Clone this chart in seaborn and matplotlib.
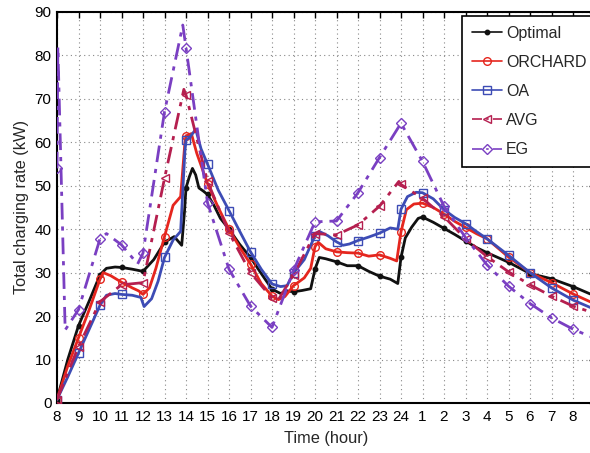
import numpy as np
import pandas as pd
import matplotlib
matplotlib.use("Agg")
import matplotlib.pyplot as plt
from matplotlib.lines import Line2D
import seaborn as sns

# Time axis: hours from 8 am through the night to 8 am next day (24 -> 1, 2, ...)
hour_ticks = list(range(8, 33))
hour_labels = [str(h) for h in range(8, 25)] + [str(h) for h in range(1, 9)]

opt_t = [8, 8.5, 9, 9.5, 10, 10.3, 10.7, 11, 11.5, 12, 12.5, 13, 13.45, 13.8, 13.93, 14,
         14.15, 14.3, 14.45, 14.6, 14.8, 15, 15.3, 15.6, 16, 16.5, 17, 17.5, 18, 18.4, 18.7,
         19, 19.4, 19.8, 20, 20.2, 20.5, 21, 21.5, 22, 22.5, 23, 23.5, 23.85, 24, 24.2,
         24.5, 24.8, 25, 25.5, 26, 26.5, 27, 27.5, 28, 29, 30, 31, 32, 32.8]
opt_v = [0.8, 10, 17.8, 23.5, 29.5, 31, 31.3, 31.2, 30.8, 30.3, 33, 37, 38.3, 36.3, 44, 49.5,
         52, 54, 52.5, 49.5, 48.8, 48, 45.5, 42.5, 40, 36.5, 33.5, 29.8, 26.2, 25.2, 25.8,
         25.6, 25.9, 26.3, 30.8, 33.5, 33.2, 32.5, 31.6, 31.6, 30.3, 29.2, 28.5, 27.5, 33.5, 38,
         40.5, 42.5, 42.8, 41.6, 40.2, 38.8, 37.3, 35.8, 34.6, 32.4, 29.8, 28.6, 26.8, 25.1]

orc_t = [8, 8.5, 9, 9.5, 10, 10.15, 10.5, 11, 11.5, 11.8, 12, 12.3, 12.6, 13, 13.4, 13.75,
         13.95, 14, 14.25, 14.5, 15, 15.5, 16, 16.5, 17, 17.5, 18, 18.3, 18.6, 19, 19.5, 19.8,
         20, 20.15, 20.5, 21, 21.5, 22, 22.5, 23, 23.5, 23.8, 24, 24.25, 24.6, 25, 25.5, 26,
         26.5, 27, 27.5, 28, 29, 30, 31, 32, 32.8]
orc_v = [0.8, 8.5, 15, 21.5, 28.5, 30, 29.3, 27.8, 26.5, 25.8, 25, 26.5, 31, 38.3, 45.5, 47.5,
         60, 61.5, 62, 57.5, 50.5, 45, 40, 35.8, 32, 27.5, 24.6, 23.8, 24.5, 27, 28.8, 31,
         36, 37, 35.5, 34.8, 34.6, 34.5, 33.8, 34.1, 33.3, 32.7, 39.4, 44.5, 45.8, 46, 45, 43.5,
         41.8, 40.4, 39, 37.8, 33.6, 30, 27.7, 25.1, 23.3]

oa_t = [8, 8.5, 9, 9.5, 10, 10.3, 10.7, 11, 11.5, 11.9, 12.05, 12.4, 12.7, 13, 13.4, 13.75,
        13.95, 14, 14.2, 14.45, 14.7, 15, 15.5, 16, 16.5, 17, 17.5, 18, 18.4, 18.7, 19, 19.5,
        20, 20.2, 20.6, 21, 21.3, 21.6, 22, 22.5, 23, 23.5, 23.85, 24, 24.3, 24.7, 25, 25.5,
        26, 26.5, 27, 27.5, 28, 29, 30, 31, 32, 32.8]
oa_v = [0.8, 6, 11.5, 17, 22.5, 24.8, 25.2, 25, 24.8, 24.3, 22.2, 24, 28, 33.5, 37.5, 39.5,
        58, 60.5, 61.3, 63, 58.5, 55, 49, 44.3, 39.5, 34.8, 30.8, 27.4, 26.8, 27, 29.9, 33,
        38.5, 39.5, 38.5, 37.1, 36.3, 36.6, 37.4, 38.2, 39.1, 40.3, 40, 44.6, 47.5, 48.5, 48.4,
        47, 44.5, 42.7, 41.3, 39.5, 37.8, 34, 30, 26.5, 23.7, 22]

avg_t = [8, 9, 10, 11, 12, 13, 13.9, 14, 15, 16, 17, 18, 18.3, 19, 20, 21, 22, 23, 23.9, 24,
         25, 26, 27, 28, 29, 30, 31, 32, 32.8]
avg_v = [0.8, 13, 23.3, 27.2, 27.7, 51.7, 72.2, 70.9, 51, 39.2, 30, 24.1, 23.8, 29.5, 39, 38.7,
         41, 45.3, 51, 50.3, 47.1, 42.9, 37.8, 33.7, 30.2, 27.2, 24.6, 22.3, 21]

eg_t = [8, 8.04, 8.38, 9, 10, 10.3, 11, 11.75, 12, 13, 13.85, 14, 15, 16, 17, 18, 19, 20, 21,
        22, 23, 24, 25, 26, 27, 28, 29, 30, 31, 32, 32.8]
eg_v = [54, 82, 16.8, 21.5, 37.8, 39, 36.4, 32, 34.5, 67, 87, 81.8, 46.1, 30.8, 22.3, 17.4,
        30.5, 41.7, 41.9, 48.4, 56.5, 64.4, 55.6, 45.3, 38.1, 31.8, 26.9, 22.9, 19.6, 17.0, 15.3]

series_names = ["Optimal", "ORCHARD", "OA", "AVG", "EG"]

sns.set_style("white")
plt.rcParams["font.family"] = ["Liberation Sans", "DejaVu Sans"]

dash_dot = (0, (6, 2.5, 1.5, 2.5))
styles = {
    "Optimal": dict(color="#111111", ls="-", marker="o", ms=3.2, mfc="#111111", mec="#111111", lw=2.0),
    "ORCHARD": dict(color="#e5261e", ls="-", marker="o", ms=5.5, mfc="none", mec="#e5261e", lw=2.0),
    "OA": dict(color="#3d4cb5", ls="-", marker="s", ms=5.5, mfc="none", mec="#3d4cb5", lw=2.0),
    "AVG": dict(color="#b51f4f", ls=dash_dot, marker="<", ms=6, mfc="none", mec="#b51f4f", lw=2.0),
    "EG": dict(color="#7a3fc2", ls=dash_dot, marker="D", ms=5, mfc="none", mec="#7a3fc2", lw=2.0),
}
data = {
    "Optimal": (opt_t, opt_v),
    "ORCHARD": (orc_t, orc_v),
    "OA": (oa_t, oa_v),
    "AVG": (avg_t, avg_v),
    "EG": (eg_t, eg_v),
}

fig = plt.figure(figsize=(5.9, 4.53), dpi=100)
ax = fig.add_axes([57 / 590, 50 / 453, 537.5 / 590, 391 / 453])

for name in series_names:
    t, v = data[name]
    df = pd.DataFrame({"t": t, "v": v})
    on_hour = [i for i, x in enumerate(t) if float(x).is_integer()]
    st = styles[name]
    sns.lineplot(data=df, x="t", y="v", ax=ax, color=st["color"], linestyle=st["ls"],
                 linewidth=st["lw"], marker=st["marker"], markersize=st["ms"],
                 markerfacecolor=st["mfc"], markeredgecolor=st["mec"], markeredgewidth=1.0,
                 markevery=on_hour, estimator=None, sort=False, legend=False, zorder=3)

ax.set_xlim(8, 33)
ax.set_ylim(0, 90)
ax.set_xticks(hour_ticks)
ax.set_xticklabels(hour_labels)
ax.set_yticks(range(0, 91, 10))
ax.tick_params(direction="in", length=4, width=1, top=True, right=True,
               labelsize=11, pad=4, colors="black")
ax.tick_params(axis="x", pad=5)
ax.grid(True, color="#888888", linestyle=(0, (1, 3)), linewidth=0.8)
for sp in ax.spines.values():
    sp.set_color("black")
    sp.set_linewidth(1.5)
ax.set_xlabel("Time (hour)", fontsize=11.8, labelpad=5)
ax.set_ylabel("Total charging rate (kW)", fontsize=11.8, labelpad=4)

handles = []
for name in series_names:
    st = styles[name]
    handles.append(Line2D([], [], color=st["color"], linestyle=st["ls"], linewidth=1.2,
                          marker=st["marker"], markersize=st["ms"], markerfacecolor=st["mfc"],
                          markeredgecolor=st["mec"]))
leg = ax.legend(handles, series_names, loc="upper left",
                bbox_to_anchor=(462 / 590, 1 - 16 / 453), bbox_transform=fig.transFigure,
                fontsize=11.5, frameon=True, fancybox=False, framealpha=1,
                edgecolor="black", handlelength=1.9, handletextpad=0.25,
                labelspacing=0.88, borderpad=0.62, borderaxespad=0)
leg.get_frame().set_linewidth(1.2)
leg.set_zorder(5)

fig.savefig("out.png", dpi=100, facecolor="white")
